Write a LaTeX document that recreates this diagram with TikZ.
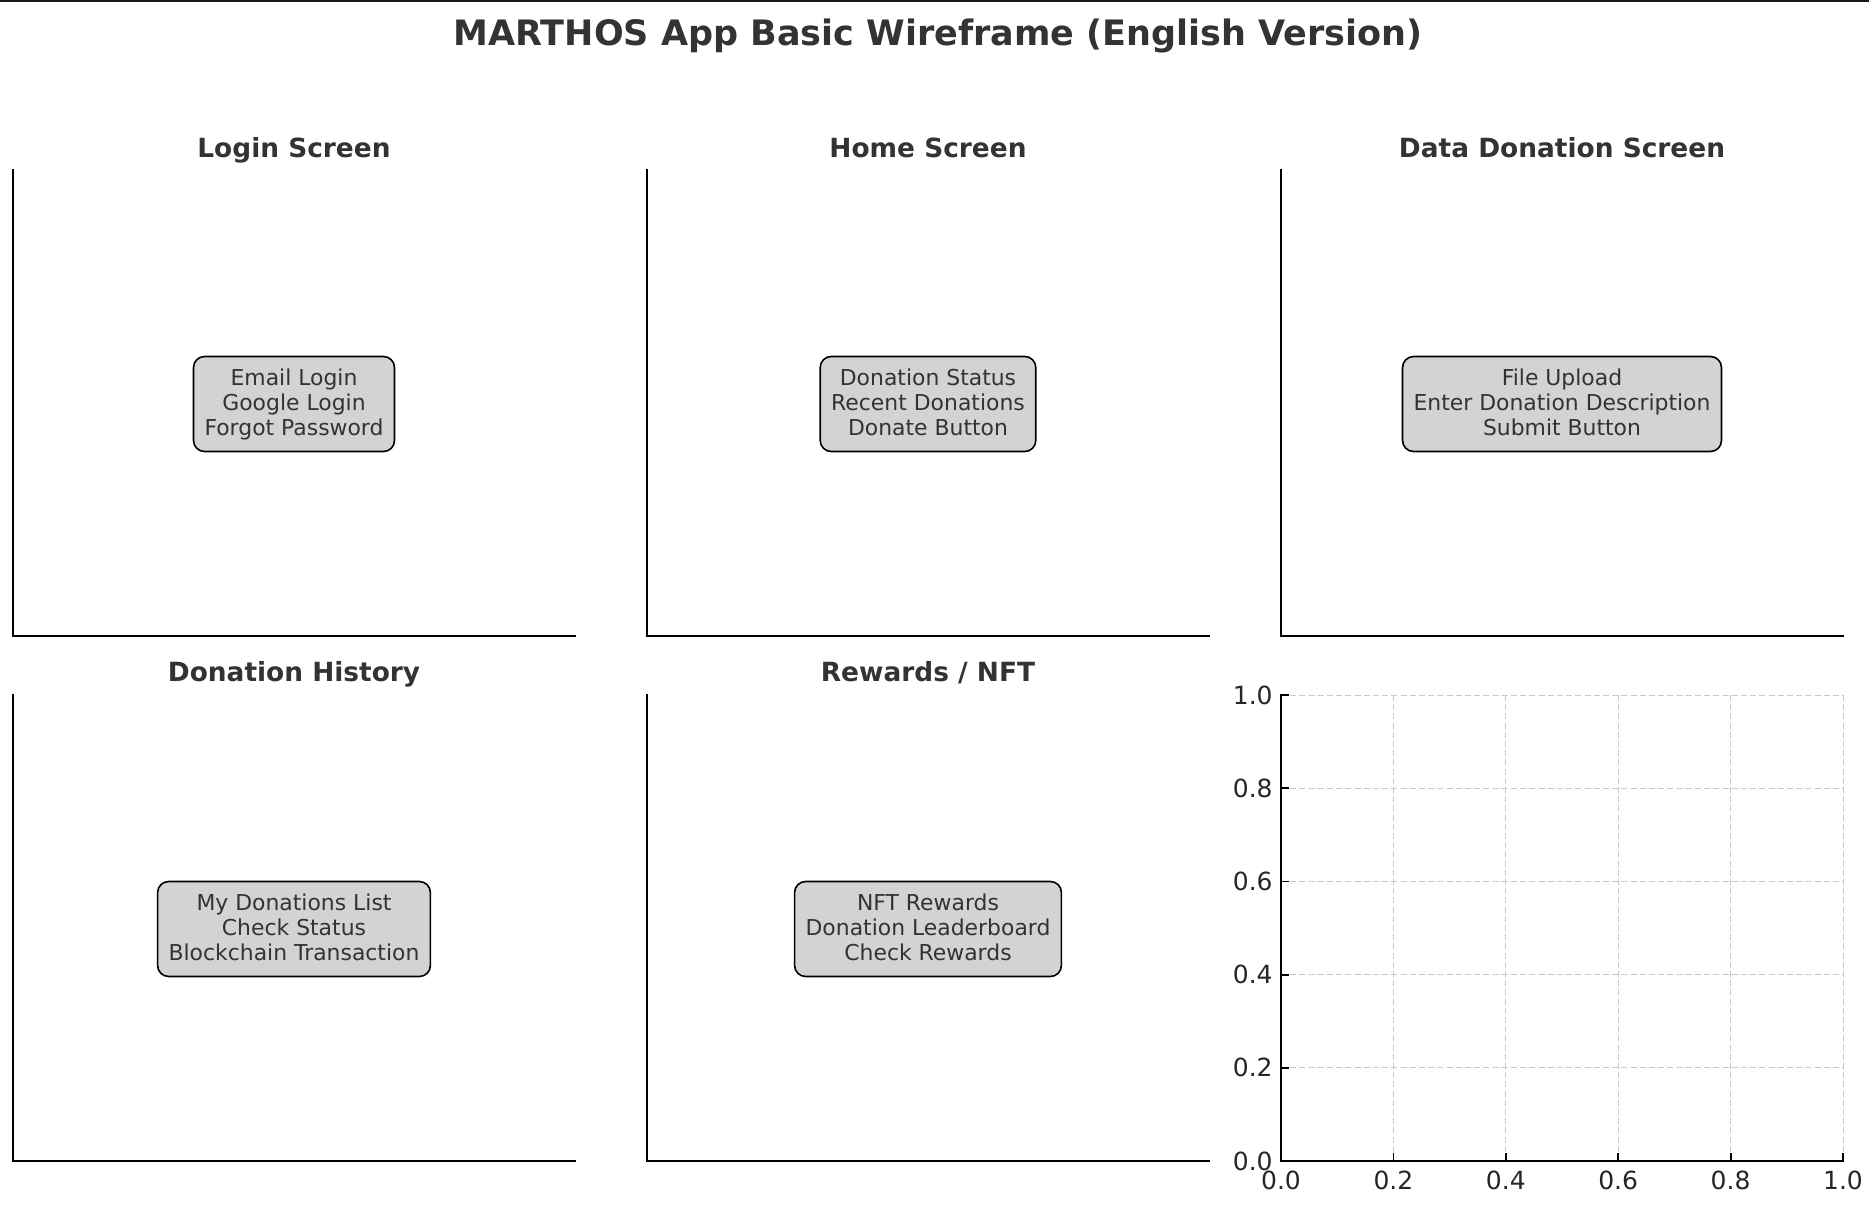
\documentclass[tikz,border=0pt]{standalone}
\usepackage{fontspec}
\setmainfont{DejaVu Sans}
\definecolor{txt}{HTML}{333333}
\definecolor{ticktxt}{HTML}{262626}
\definecolor{boxgray}{HTML}{D3D3D3}
\definecolor{gridc}{HTML}{C8C8C8}
\newcommand{\tstr}{\rule{0pt}{0.81em}}
\newcommand{\bstr}{\rule[-0.24em]{0pt}{0pt}}
\begin{document}
\begin{tikzpicture}[x=0.5pt,y=-0.5pt,
  maintitle/.style={font=\fontsize{17.5pt}{21pt}\selectfont\bfseries, text=txt, inner sep=0pt, anchor=base},
  paneltitle/.style={font=\fontsize{13.2pt}{16pt}\selectfont\bfseries, text=txt, inner sep=0pt, anchor=base},
  card/.style={draw=black, fill=boxgray, rounded corners=5.5pt, line width=0.8pt, inner sep=5.5pt,
    align=center, font=\fontsize{10.95pt}{12.5pt}\selectfont, text=txt},
  spine/.style={line width=0.9pt, black, line cap=rect},
  gridline/.style={gridc, line width=0.5pt, dash pattern=on 3pt off 1.6pt},
  ticklab/.style={font=\fontsize{12.5pt}{15pt}\selectfont, text=ticktxt, inner sep=0pt},
  tickmark/.style={line width=0.9pt, black}
]
\useasboundingbox (0,0) rectangle (1869,1205);
% top border line
\coordinate (tl) at (0,1);
\coordinate (tr) at (1869,1);
\draw[line width=1pt, black!90] (tl) -- (tr);

\node[maintitle] (title) at (938,45) {MARTHOS App Basic Wireframe (English Version)};

% panel spines
\foreach \L/\T/\nm in {13/170/p1, 647/170/p2, 1281/170/p3, 13/695/p4, 647/695/p5, 1281/695/p6}{
  \coordinate (\nm top) at (\L,\T);
  \coordinate (\nm corner) at (\L,\T+466);
  \coordinate (\nm right) at (\L+562,\T+466);
}

% grid in last panel (drawn before spines)
\foreach \k in {1,...,5}{
  \coordinate (gx\k b) at ({1281+\k*112.4},1161);
  \coordinate (gx\k t) at ({1281+\k*112.4},695);
  \draw[gridline] (gx\k b) -- (gx\k t);
}
\foreach \k in {1,...,5}{
  \coordinate (gy\k l) at (1281,{1161-\k*93.2});
  \coordinate (gy\k r) at (1843,{1161-\k*93.2});
  \draw[gridline] (gy\k l) -- (gy\k r);
}

\foreach \nm in {p1,p2,p3,p4,p5,p6}{
  \draw[spine] (\nm top) -- (\nm corner) -- (\nm right);
}

% panel titles
\node[paneltitle] (t1) at (294,157.6) {Login Screen};
\node[paneltitle] (t2) at (928,157.6) {Home Screen};
\node[paneltitle] (t3) at (1562,157.6) {Data Donation Screen};
\node[paneltitle] (t4) at (294,681.6) {Donation History};
\node[paneltitle] (t5) at (928,681.6) {Rewards / NFT};

% cards
\node[card] (c1) at (294,404) {\tstr Email Login\\Google Login\\Forgot Password\bstr};
\node[card] (c2) at (928,404) {\tstr Donation Status\\Recent Donations\\Donate Button\bstr};
\node[card] (c3) at (1562,404) {\tstr File Upload\\Enter Donation Description\\Submit Button\bstr};
\node[card] (c4) at (294,929) {\tstr My Donations List\\Check Status\\Blockchain Transaction\bstr};
\node[card] (c5) at (928,929) {\tstr NFT Rewards\\Donation Leaderboard\\Check Rewards\bstr};

% ticks and tick labels of the empty axes
\foreach \k/\lab in {0/0.0,1/0.2,2/0.4,3/0.6,4/0.8,5/1.0}{
  \coordinate (xt\k) at ({1281+\k*112.4},1161);
  \coordinate (xti\k) at ({1281+\k*112.4},1153);
  \draw[tickmark] (xt\k) -- (xti\k);
  \node[ticklab] (xl\k) at ({1281+\k*112.4},1180) {\lab};
  \coordinate (yt\k) at (1281,{1161-\k*93.2});
  \coordinate (yti\k) at (1289,{1161-\k*93.2});
  \draw[tickmark] (yt\k) -- (yti\k);
  \node[ticklab, anchor=east] (yl\k) at (1273,{1161-\k*93.2}) {\lab};
}
\end{tikzpicture}
\end{document}
